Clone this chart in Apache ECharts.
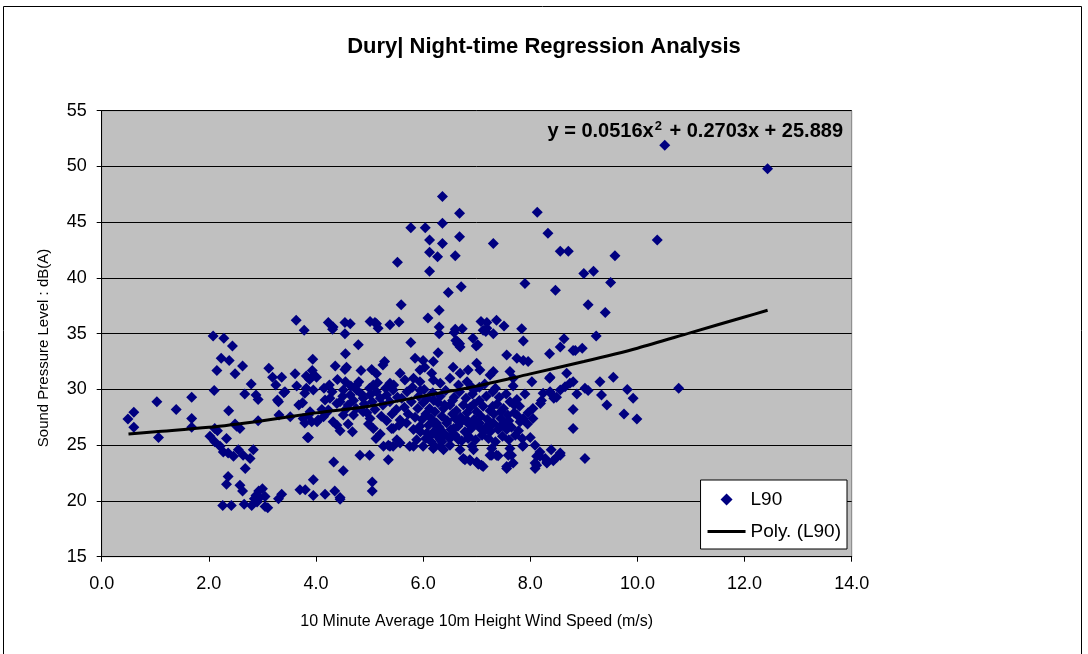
<!DOCTYPE html>
<html>
<head>
<meta charset="utf-8">
<script src="https://cdn.jsdelivr.net/npm/echarts@6/dist/echarts.min.js"></script>
<style>
  html, body { margin: 0; padding: 0; background: #fff; }
  #chart { width: 1088px; height: 654px; }
</style>
</head>
<body>
<div id="chart"></div>
<script>
// L90 scatter, [wind speed m/s, dB(A)]
var l90Data = [
  [0.49,27.35],[0.60,27.95],[0.60,26.6],[1.03,28.9],[1.06,25.7],[1.39,28.2],[1.68,29.3],[1.68,27.4],[1.68,26.6],
  [2.10,29.9],[2.15,31.7],[2.23,32.8],[2.38,32.6],[2.44,33.9],[2.49,31.4],[2.63,32.1],[2.37,28.1],[2.67,29.6],
  [2.79,30.5],[2.88,29.5],[2.92,29.1],[2.92,27.2],[3.12,31.9],[3.19,31.1],[3.25,30.4],[3.36,31.1],[3.40,29.7],
  [3.30,28.9],[3.31,27.7],[3.61,31.4],[3.64,30.3],[3.68,28.6],[3.75,28.8],[3.82,31.2],[3.88,30.9],[3.82,30.1],
  [3.93,31.7],[3.96,31.3],[3.94,32.7],[3.79,27.0],[3.86,27.7],[3.92,27.1],[3.84,25.7],[4.02,27.1],[4.11,28.2],
  [2.02,25.8],[2.11,25.3],[2.21,24.9],[2.27,24.4],[2.36,24.3],[2.46,24.0],[2.55,24.6],[2.64,24.1],[2.83,24.6],
  [2.77,23.8],[2.33,25.6],[2.68,22.9],[2.36,22.2],[2.33,21.5],[2.58,21.4],[2.63,20.9],[2.26,19.6],[2.42,19.6],
  [2.66,19.7],[2.80,19.6],[2.85,20.2],[2.88,20.5],[2.93,20.9],[3.00,21.1],[3.05,20.4],[3.05,19.5],[3.10,19.4],
  [2.90,19.9],[2.95,20.3],[3.36,20.6],[3.30,20.2],[3.70,21.0],[3.80,21.0],[3.95,21.9],[3.95,20.5],[4.17,20.6],
  [4.33,23.5],[4.35,20.9],[4.45,20.3],[4.51,22.7],[2.49,26.9],[2.58,26.5],[2.16,26.3],
  [2.08,34.8],[2.28,34.6],[3.63,36.2],[3.78,35.3],[4.23,36.0],[4.32,35.6],[4.31,35.4],[4.54,36.0],[4.64,35.9],
  [4.54,35.0],[4.79,34.0],[4.55,33.2],[5.01,36.1],[5.13,35.9],[5.16,35.5],[5.38,35.8],[4.01,31.1],[4.36,32.1],
  [4.54,31.8],[4.57,32.0],[4.84,31.7],[5.04,31.8],[5.13,31.4],[5.28,32.5],[5.25,32.2],[5.38,30.55],[5.57,31.45],
  [5.07,30.4],[4.76,30.4],[4.55,30.7],
  [6.36,47.3],[6.68,45.8],[5.77,44.5],[6.04,44.5],[6.36,44.9],[6.68,43.7],[6.12,43.4],[6.36,43.1],[6.12,42.3],
  [6.27,41.9],[6.60,42.0],[7.31,43.1],[8.13,45.9],[8.33,44.0],[8.56,42.4],[8.71,42.4],[9.58,42.0],[5.52,41.4],
  [6.12,40.6],[9.00,40.4],[9.18,40.6],[7.90,39.5],[9.50,39.6],[8.47,38.9],[6.71,39.2],[6.47,38.7],[5.59,37.6],
  [9.08,37.6],[9.40,36.9],[6.30,37.1],[6.09,36.4],[5.10,36.0],[5.55,36.05],[6.30,35.6],[6.30,35.0],[6.60,35.4],
  [6.58,35.1],[6.73,35.45],[6.93,34.6],[7.02,34.0],[6.64,34.3],[6.64,34.1],[7.08,36.1],[7.19,36.0],[7.12,35.3],
  [7.17,35.2],[7.31,35.0],[7.37,36.2],[7.51,35.7],[7.84,35.45],[7.87,34.35],[5.77,34.2],[8.63,34.55],[9.23,34.8],
  [8.97,33.7],[8.56,33.8],
  [10.51,51.9],[12.43,49.8],[10.37,43.4],[9.81,30.0],[9.92,29.2],[9.75,27.8],[9.99,27.35],[10.77,30.1],
  [8.36,33.2],[8.84,33.5],[8.68,31.45],[8.74,30.55],[8.36,31.0],[8.56,29.95],[8.38,29.65],[8.24,29.65],[8.44,29.2],
  [8.19,28.75],[8.05,28.3],[7.96,27.9],[8.87,29.6],[9.08,29.9],[9.30,30.7],[9.33,29.5],[9.55,31.1],[9.43,28.6],
  [8.80,28.2],[8.80,26.5],[9.02,23.8],[8.12,24.0],[8.18,24.4],[8.28,23.8],[8.39,24.6],[8.56,24.1],[8.09,23.4],
  [8.31,23.4],[7.86,24.9],[8.09,25.0],[7.62,24.7],[7.68,23.4],[7.56,22.9],[7.65,24.1],[7.28,24.1],[7.37,24.1],
  [7.28,24.7],[6.78,23.7],[6.88,23.6],[7.03,23.3],[7.12,23.1],[6.94,24.6],[6.66,25.5],[6.84,25.6],[6.50,25.6],
  [6.13,25.8],[6.32,25.5],[6.22,24.9],[6.38,24.6],[6.00,24.9],[5.88,25.5],[5.75,24.9],[5.51,25.5],[5.38,24.9],
  [5.26,24.9],[5.35,23.7],[4.82,24.1],[5.00,24.1],[5.05,21.7],[5.05,20.9],[4.45,20.15],
  [5.44,26.5],[5.57,27.25],[5.69,27.0],[5.82,26.4],[5.94,26.7],[6.07,26.1],[6.19,27.0],[6.32,26.4],[6.44,27.0],
  [6.57,26.5],[6.69,27.0],[6.82,27.25],[6.94,26.8],[7.07,26.5],[7.19,26.7],[7.31,27.0],[7.44,26.7],[7.56,26.4],
  [6.61,34.4],[6.68,34.1],[6.69,33.8],[6.99,33.9],[7.19,35.5],[7.56,33.1],[7.75,32.8],[7.87,32.6],[7.96,32.5],
  [8.80,33.5],[5.85,32.8],[6.00,32.6],[6.03,32.0],[6.19,32.5],[6.28,33.3],[5.94,31.75],[6.16,31.45],[6.56,32.0],
  [6.69,31.45],[6.84,31.75],[7.00,32.35],[7.06,31.75],[7.25,31.3],[7.31,31.6],[7.62,31.6],[7.68,31.0],[5.66,30.85],
  [5.82,31.0],[5.94,30.7],[6.19,30.85],[6.32,30.55],[6.50,31.0],[6.66,30.4],[6.82,30.7],[6.90,30.25],[8.03,30.7],
  [8.37,31.1],[8.80,30.7],[9.02,30.1],
  [3.28,29.05],[3.42,29.8],[3.79,29.65],[3.95,29.95],[3.89,28.0],[4.04,27.25],[3.76,27.4],[4.17,29.05],[4.26,29.2],
  [4.39,28.75],[4.23,28.15],[4.14,27.55],[4.32,27.1],[4.39,26.8],[4.51,27.7],[4.57,28.3],[4.51,29.95],[4.64,29.5],
  [4.76,29.95],[4.88,29.2],[5.01,29.5],[5.13,29.8],[5.32,29.5],[5.44,29.95],[4.70,27.7],[4.88,28.0],[5.01,27.4],
  [5.07,26.5],[5.41,26.5],[5.35,25.0],[5.44,24.9],[5.57,25.2],[3.86,25.7],[2.11,26.5],[2.52,26.7],[3.52,27.55],
  [8.49,29.3],[8.37,29.8],[8.21,29.0],[8.65,30.25],[7.87,27.4],[7.75,27.7],[7.81,27.1],[8.56,24.3],[8.49,23.9],
  [8.43,23.6],[8.31,23.5],[8.18,24.0],[8.12,23.2],[8.09,22.9],[7.87,25.0],[7.59,24.1],[7.56,23.1],[7.25,24.1],
  [7.40,24.05],[7.09,23.2],[7.00,23.5],[6.87,23.7],[6.75,23.8],[5.82,24.9],[6.19,24.7],[6.32,24.9],[6.50,25.0],
  [6.69,24.6],[6.91,24.9],
  [5.60,29.2],[5.65,28.4],[5.70,29.8],[5.72,27.8],[5.78,28.9],[5.80,30.2],[5.85,27.5],[5.90,28.3],[5.92,29.4],
  [5.95,26.2],[5.98,27.3],[6.00,28.8],[6.02,30.0],[6.05,25.6],[6.05,27.8],[6.08,29.2],[6.10,26.8],[6.12,28.3],
  [6.15,25.3],[6.15,27.4],[6.18,29.7],[6.20,26.2],[6.22,28.0],[6.25,25.9],[6.25,27.0],[6.28,28.8],[6.30,26.6],
  [6.32,29.4],[6.35,25.3],[6.35,27.6],[6.38,28.3],[6.40,26.0],[6.42,29.9],[6.45,27.2],[6.48,25.7],[6.50,28.6],
  [6.52,26.4],[6.55,27.8],[6.58,29.3],[6.60,25.9],[6.62,28.1],[6.65,26.7],[6.68,29.8],[6.70,27.5],[6.72,25.4],
  [6.75,28.6],[6.78,26.2],[6.80,29.2],[6.82,27.9],[6.85,25.8],[6.88,28.4],[6.90,26.5],[6.92,29.6],[6.95,27.3],
  [6.98,25.5],[7.00,28.0],[7.02,26.9],[7.05,29.0],[7.05,30.2],[7.08,27.6],[7.10,25.9],[7.12,28.5],[7.15,26.3],
  [7.18,29.4],[7.20,27.3],[7.22,25.6],[7.25,28.1],[7.28,26.8],[7.30,29.8],[7.32,27.8],[7.35,25.3],[7.38,28.7],
  [7.40,26.4],[7.42,29.3],[7.45,27.4],[7.48,25.8],[7.50,28.3],[7.52,26.9],[7.55,29.6],[7.58,27.7],[7.60,25.5],
  [7.62,28.9],[7.65,26.6],[7.68,30.3],[7.70,27.9],[7.72,25.9],[7.75,29.1],[7.78,26.3],[7.80,28.5],[7.85,25.6],
  [7.90,29.6],[7.95,26.9],[8.00,25.7],[8.05,27.4],
  [4.45,28.9],[4.50,29.4],[4.60,28.6],[4.65,30.3],[4.70,29.0],[4.75,28.3],[4.80,30.7],[4.85,29.6],[4.90,28.7],
  [4.95,27.9],[5.00,30.1],[5.05,28.9],[5.10,28.2],[5.15,30.6],[5.20,29.2],[5.22,27.6],[5.25,28.6],[5.30,30.1],
  [5.32,27.2],[5.38,28.9],[5.42,27.8],[5.45,30.4],[5.50,28.2],[5.52,29.3],[5.55,26.8],[4.30,29.8],[4.25,30.4],
  [4.40,30.9],[4.15,30.1],[4.20,27.9],[4.45,26.3],[4.60,26.9],[4.68,26.2],[5.12,25.6],[5.20,26.0],[4.98,26.9],
  [6.95,29.95],[7.15,30.5],[7.35,30.1],[7.45,28.0],[7.25,26.2],[7.05,27.0],[6.85,26.9],[6.6,27.4],[6.4,28.6],
  [7.6,27.2],[7.7,28.6],[7.3,28.5],[6.95,28.7],[6.55,29.0],[6.2,29.0],[5.95,29.9]
];

// polynomial trend line
var trendX = [0.5, 1, 2, 3, 4, 5, 6, 7, 8, 9, 10, 11, 12, 12.43];
var trendY = [26.0, 26.2, 26.6, 27.2, 27.9, 28.5, 29.4, 30.3, 31.4, 32.5, 33.7, 35.1, 36.5, 37.1];

var trendData = trendX.map(function (x, i) { return [x, trendY[i]]; });

var myChart = echarts.init(document.getElementById('chart'));
var font = '"Liberation Sans", Arial, sans-serif';

var option = {
    backgroundColor: '#fff',
    animation: false,
    title: [{
        text: 'Dury| Night-time Regression Analysis',
        left: 'center',
        top: 31,
        textStyle: { fontFamily: font, fontSize: 22, fontWeight: 'bold', color: '#000' }
    }, {
        text: '{b|y = 0.0516x}{s|2}{b| + 0.2703x + 25.889}',
        right: 240,
        top: 115,
        textStyle: {
            rich: {
                b: { fontFamily: font, fontSize: 20, fontWeight: 'bold', color: '#000' },
                s: { fontFamily: font, fontSize: 13, fontWeight: 'bold', color: '#000', verticalAlign: 'top', padding: [0, 2, 9, 1] }
            }
        }
    }],
    graphic: [{
        type: 'rect',
        shape: { x: 3.5, y: 6.5, width: 1078, height: 680 },
        style: { fill: 'none', stroke: '#000', lineWidth: 1 },
        silent: true
    }, {
        type: 'text',
        x: 44,
        y: 348,
        rotation: Math.PI / 2,
        silent: true,
        style: {
            text: 'Sound Pressure Level : dB(A)',
            fontFamily: font,
            fontSize: 15,
            fill: '#000',
            align: 'center',
            verticalAlign: 'middle'
        }
    }],
    legend: {
        orient: 'vertical',
        right: 241,
        bottom: 105,
        backgroundColor: '#fff',
        borderColor: '#000',
        borderWidth: 1,
        borderRadius: 0,
        padding: [10, 6, 8, 7],
        itemGap: 13,
        itemWidth: 38,
        itemHeight: 12,
        textStyle: { fontFamily: font, fontSize: 19, color: '#000' },
        data: [
            { name: 'L90', icon: 'path://M0 0 M38 12 M19 0 L25 6 L19 12 L13 6 Z' },
            { name: 'Poly. (L90)', icon: 'path://M0 4.5 L38 4.5 L38 7.5 L0 7.5 Z' }
        ]
    },
    grid: {
        left: 101.7,
        top: 110.7,
        right: 236.3,
        bottom: 97.3,
        show: true,
        backgroundColor: '#c0c0c0',
        borderColor: '#808080',
        borderWidth: 1
    },
    xAxis: {
        type: 'value',
        min: 0,
        max: 14,
        interval: 2,
        name: '10 Minute Average 10m Height Wind Speed (m/s)',
        nameLocation: 'middle',
        nameGap: 57,
        nameTextStyle: { fontFamily: font, fontSize: 16, color: '#000' },
        axisLine: { show: true, lineStyle: { color: '#000', width: 1 } },
        axisTick: { show: true, length: 5, lineStyle: { color: '#000' } },
        axisLabel: {
            fontFamily: font, fontSize: 18, color: '#000', margin: 18,
            formatter: function (v) { return v.toFixed(1); }
        },
        splitLine: { show: false }
    },
    yAxis: {
        type: 'value',
        min: 15,
        max: 55,
        interval: 5,
        axisLine: { show: true, lineStyle: { color: '#000', width: 1 } },
        axisTick: { show: true, length: 5, lineStyle: { color: '#000' } },
        axisLabel: { fontFamily: font, fontSize: 18, color: '#000', margin: 15 },
        splitLine: { show: true, lineStyle: { color: '#000', width: 1 } }
    },
    series: [{
        name: 'L90',
        type: 'scatter',
        symbol: 'diamond',
        symbolSize: 11,
        itemStyle: { color: '#000080', opacity: 1 },
        data: l90Data
    }, {
        name: 'Poly. (L90)',
        type: 'line',
        smooth: 0.3,
        symbol: 'none',
        showSymbol: false,
        lineStyle: { color: '#000', width: 3 },
        itemStyle: { color: '#000' },
        data: trendData
    }]
};
myChart.setOption(option);
</script>
</body>
</html>
